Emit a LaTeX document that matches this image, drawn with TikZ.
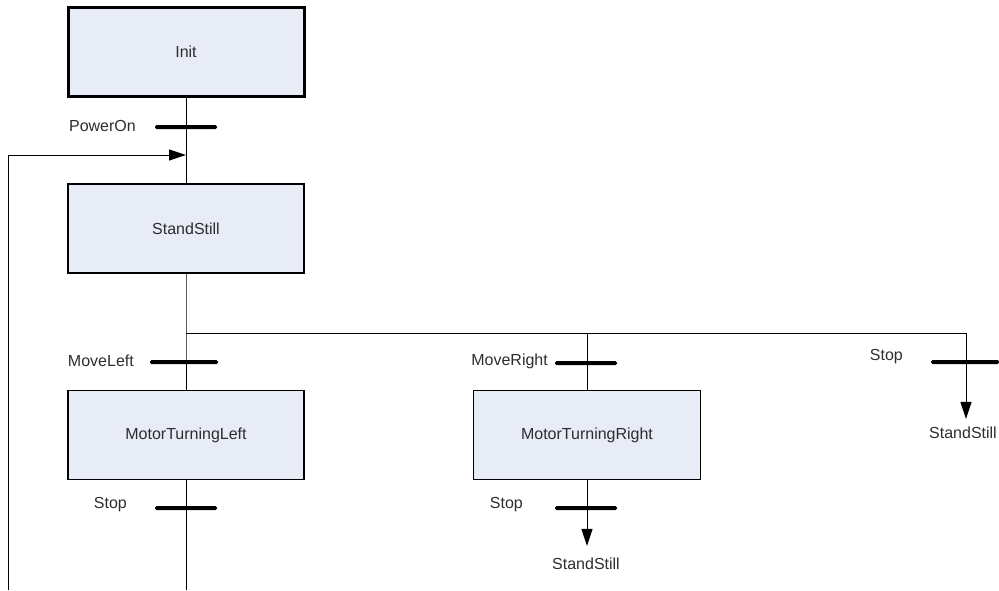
\documentclass[tikz,border=0pt]{standalone}
\usepackage{fontspec}
\setmainfont{Liberation Sans}
\usetikzlibrary{arrows.meta}
\definecolor{stepfill}{RGB}{232,236,246}
\definecolor{txt}{RGB}{45,45,45}
\begin{document}
\begin{tikzpicture}[x=1pt,y=-1pt,
  font=\fontsize{16}{19}\selectfont,
  stepbox/.style={draw=black,line width=1.3pt,fill=stepfill,text=txt,
    minimum width=236pt,minimum height=89pt,inner sep=0pt},
  initbox/.style={stepbox,line width=3pt},
  tbar/.style={fill=black,minimum height=4pt,inner sep=0pt,rounded corners=1.5pt},
  lbl/.style={text=txt,inner sep=0pt},
  wire/.style={line width=1pt},
  arr/.style={wire,-{Triangle[length=17pt,width=11pt]}}]
\useasboundingbox (0,0) rectangle (999,590);

% steps
\node[initbox] (init) at (186,52) {Init};
\node[stepbox] (stand) at (186,228.5) {StandStill};
\node[stepbox] (mtl) at (186,435) {MotorTurningLeft};
\node[stepbox,minimum width=227pt] (mtr) at (587,435) {MotorTurningRight};

% branch points and free ends
\coordinate (bl) at (186,333);
\coordinate (bm) at (587,333);
\coordinate (br) at (966,333);
\coordinate (endl) at (186,590);
\coordinate (fbbot) at (8,590);
\coordinate (fbtop) at (8,155);
\coordinate (fbin) at (186,155);

% jump targets
\node[lbl] (ssm) at (586,564) {StandStill};
\node[lbl] (ssr) at (963,433) {StandStill};

% connectors
\draw[wire] (init.south) -- (stand.north);
\draw[wire] (stand.south) -- (bl) -- (mtl.north);
\draw[wire] (bl) -- (br);
\draw[wire] (bm) -- (mtr.north);
\draw[wire] (mtl.south) -- (endl);
\draw[arr,shorten >=12pt] (mtr.south) -- (mtr.south |- ssm.north);
\draw[arr,shorten >=8pt] (br) -- (br |- ssr.north);
\draw[arr] (fbbot) -- (fbtop) -- (fbin);

% transitions
\node[tbar,minimum width=62pt] (t1) at (186,127) {};
\node[tbar,minimum width=68pt] (t2) at (184,362) {};
\node[tbar,minimum width=62pt] (t3) at (186,508) {};
\node[tbar,minimum width=62pt] (t4) at (586,363) {};
\node[tbar,minimum width=62pt] (t5) at (586,508) {};
\node[tbar,minimum width=68pt] (t6) at (965,362) {};

% transition conditions
\node[lbl,anchor=east] (c1) at (136,126) {PowerOn};
\node[lbl,anchor=east] (c2) at (134,361) {MoveLeft};
\node[lbl,anchor=east] (c3) at (127,505) {Stop};
\node[lbl,anchor=east] (c4) at (548,361) {MoveRight};
\node[lbl,anchor=east] (c5) at (523,505) {Stop};
\node[lbl,anchor=east] (c6) at (903,357) {Stop};
\end{tikzpicture}
\end{document}
